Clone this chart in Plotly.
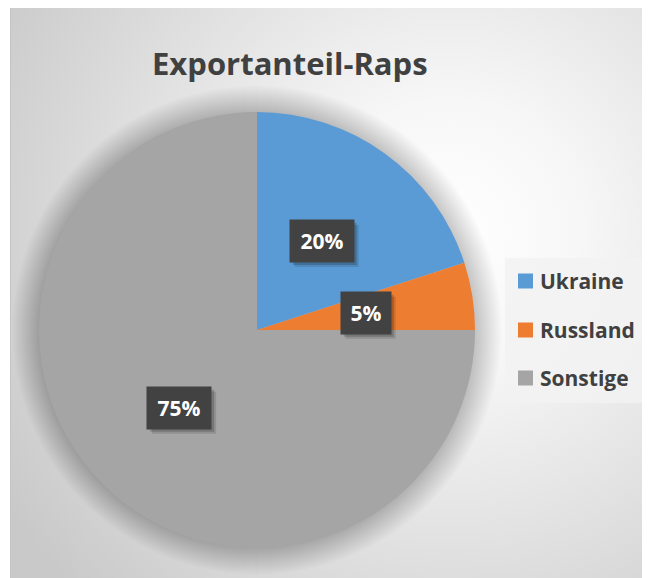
import base64, math
import plotly.graph_objects as go

# ---- data ----
categories = ["Ukraine", "Russland", "Sonstige"]
values = [20, 5, 75]
colors = ["#5b9bd5", "#ed7d31", "#a5a5a5"]
title_text = "Exportanteil-Raps"

W, H = 650, 578
FONT = "Open Sans"
OFF = 8  # page body margin

def px(x):
    return (x - OFF) / W

def py(y):
    return 1 - (y - OFF) / H

# pie geometry (screen pixels)
CX, CY, R = 257, 330, 218

# background: radial gradient panel
BW, BH = 660, 590
svg = f'''<svg xmlns="http://www.w3.org/2000/svg" width="{BW}" height="{BH}" viewBox="0 0 {BW} {BH}">
<defs><radialGradient id="g" gradientUnits="userSpaceOnUse" cx="440" cy="225" r="520">
<stop offset="0" stop-color="#ffffff"/><stop offset="0.25" stop-color="#f7f7f7"/>
<stop offset="1" stop-color="#c9c9c9"/></radialGradient></defs>
<rect x="0" y="0" width="{BW}" height="{BH}" fill="url(#g)"/>
<line x1="0.5" y1="0" x2="0.5" y2="{BH}" stroke="#c4c4c4" stroke-width="1"/>
<line x1="0" y1="0.5" x2="{BW}" y2="0.5" stroke="#c4c4c4" stroke-width="1"/>
</svg>'''
src = "data:image/svg+xml;base64," + base64.b64encode(svg.encode()).decode()

fig = go.Figure()
fig.add_trace(go.Pie(
    labels=categories, values=values,
    marker=dict(colors=colors, line=dict(width=0)),
    sort=False, direction="clockwise", rotation=0,
    textinfo="none", showlegend=False,
    domain=dict(x=[px(CX - R), px(CX + R)], y=[py(CY + R), py(CY - R)]),
))

shapes = []
# soft shadow around pie
for i in range(1, 28):
    r = R + i
    shapes.append(dict(type="circle", xref="paper", yref="paper", layer="below",
                       x0=px(CX - r), x1=px(CX + r), y0=py(CY + r), y1=py(CY - r),
                       fillcolor="rgba(0,0,0,0.0075)", line=dict(width=0)))

# legend box
shapes.append(dict(type="rect", xref="paper", yref="paper", layer="below",
                   x0=px(505), x1=px(660), y0=py(403), y1=py(258),
                   fillcolor="rgba(242,242,242,0.85)", line=dict(width=0)))

annotations = []
# data labels
total = sum(values)
cum = 0
box_w = {1: 50, 2: 64, 3: 64}
for v in values:
    mid = (cum + v / 2) / total * 2 * math.pi
    cum += v
    lr = 0.505 * R
    lx = CX + lr * math.sin(mid)
    ly = CY - lr * math.cos(mid)
    txt = f"{v / total:.0%}"
    bw = box_w[len(txt) - 1]
    bh = 42
    for off, op in [(5, 0.12), (3, 0.18)]:
        shapes.append(dict(type="rect", xref="paper", yref="paper", layer="above",
                           x0=px(lx - bw / 2 + off), x1=px(lx + bw / 2 + off),
                           y0=py(ly + bh / 2 + off), y1=py(ly - bh / 2 + off),
                           fillcolor=f"rgba(0,0,0,{op})", line=dict(width=0)))
    annotations.append(dict(xref="paper", yref="paper", x=px(lx), y=py(ly),
                            xanchor="center", yanchor="middle", text=f"<b>{txt}</b>",
                            showarrow=False, width=bw, height=bh, borderpad=0,
                            bgcolor="#424242",
                            font=dict(family=FONT, size=21, color="#ffffff")))

# legend (manual)
leg_y = [281, 330, 378]
for name, col, yy in zip(categories, colors, leg_y):
    shapes.append(dict(type="rect", xref="paper", yref="paper", layer="above",
                       x0=px(518), x1=px(533), y0=py(yy + 7.5), y1=py(yy - 7.5),
                       fillcolor=col, line=dict(width=0)))
    annotations.append(dict(xref="paper", yref="paper", x=px(538), y=py(yy),
                            xanchor="left", yanchor="middle", text=f"<b>{name}</b>",
                            showarrow=False,
                            font=dict(family=FONT, size=21, color="#404040")))

# title
annotations.append(dict(xref="paper", yref="paper", x=px(290), y=py(63),
                        xanchor="center", yanchor="middle", text=f"<b>{title_text}</b>",
                        showarrow=False,
                        font=dict(family=FONT, size=31, color="#404040")))

fig.update_layout(
    width=W, height=H, margin=dict(l=0, r=0, t=0, b=0),
    paper_bgcolor="#ffffff", plot_bgcolor="#ffffff",
    images=[dict(source=src, xref="paper", yref="paper", x=px(10), y=py(7),
                 sizex=BW / W, sizey=BH / H, xanchor="left", yanchor="top",
                 sizing="stretch", layer="below")],
    shapes=shapes, annotations=annotations,
)
fig.write_html("out.html")
